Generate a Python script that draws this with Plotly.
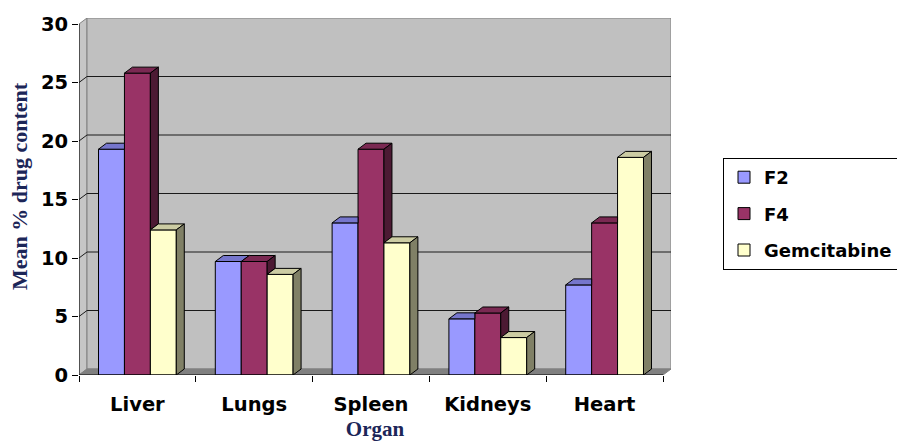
import plotly.graph_objects as go

# ---- data -------------------------------------------------------------
organs = ["Liver", "Lungs", "Spleen", "Kidneys", "Heart"]
series_names = ["F2", "F4", "Gemcitabine"]
f2 = [19.3, 9.7, 13.0, 4.8, 7.7]
f4 = [25.8, 9.7, 19.3, 5.3, 13.0]
gemcitabine = [12.4, 8.6, 11.3, 3.2, 18.6]
y_ticks = [0, 5, 10, 15, 20, 25, 30]

# ---- styling ----------------------------------------------------------
front_colors = ["#9999FF", "#993366", "#FFFFCC"]
top_colors = ["#7676CC", "#7A2952", "#CCCCA3"]
side_colors = ["#4D4D80", "#4C1A33", "#808066"]
wall_color = "#C0C0C0"
side_wall_color = "#C6C6C6"
floor_color = "#808080"
edge_gray = "#808080"
title_color = "#1C2658"

W, H = 897, 441
plot_left, plot_right = 79, 671
plot_top, plot_bottom = 18, 375
depth_px = (8, 6)              # 3-D depth offset (right, up) in pixels

n = len(organs)
ymax = y_ticks[-1]
front_w_px = plot_right - plot_left - depth_px[0]
front_h_px = plot_bottom - plot_top - depth_px[1]
dx = depth_px[0] * n / front_w_px      # depth offset in x data units
dy = depth_px[1] * ymax / front_h_px   # depth offset in y data units
bar_w = 0.222

series = [f2, f4, gemcitabine]

fig = go.Figure()

# front faces of the columns
for k, (name, vals) in enumerate(zip(series_names, series)):
    xs = [i + 0.5 + (k - 1) * bar_w for i in range(n)]
    fig.add_trace(go.Bar(
        x=xs, y=vals, width=bar_w, name=name, legendgroup=name,
        marker=dict(color=front_colors[k], line=dict(color="black", width=1)),
        hovertemplate=name + ": %{y}<extra></extra>",
    ))

# top and side faces, trimmed where the neighbouring column hides them
for k, vals in enumerate(series):
    tops_x, tops_y, sides_x, sides_y = [], [], [], []
    for i in range(n):
        h = vals[i]
        xc = i + 0.5 + (k - 1) * bar_w
        xl, xr = xc - bar_w / 2, xc + bar_w / 2
        hn = series[k + 1][i] if k + 1 < len(series) else 0.0
        hc = min(max(hn, h), h + dy)
        xcut = xr + dx * (h + dy - hc) / dy
        tops_x += [xl, xr, xr, xcut, xl + dx, xl, None]
        tops_y += [h, h, hc, h + dy, h + dy, h, None]
        if hn < h:
            sides_x += [xr, xr + dx, xr + dx, xr, xr, None]
            sides_y += [hn, hn + dy, h + dy, h, hn, None]
    fig.add_trace(go.Scatter(
        x=tops_x, y=tops_y, mode="lines", fill="toself",
        fillcolor=top_colors[k], line=dict(color="black", width=1),
        showlegend=False, hoverinfo="skip"))
    if sides_x:
        fig.add_trace(go.Scatter(
            x=sides_x, y=sides_y, mode="lines", fill="toself",
            fillcolor=side_colors[k], line=dict(color="black", width=1),
            showlegend=False, hoverinfo="skip"))

# walls, floor and gridlines of the 3-D box
shapes = [
    dict(type="path", layer="below", xref="x", yref="y",
         path=f"M0,0 L{dx},{dy} L{dx},{ymax + dy} L0,{ymax} Z",
         fillcolor=side_wall_color, line=dict(color=edge_gray, width=1)),
    dict(type="rect", layer="below", xref="x", yref="y",
         x0=dx, y0=dy, x1=n + dx, y1=ymax + dy,
         fillcolor=wall_color, line=dict(color=edge_gray, width=1)),
    dict(type="path", layer="below", xref="x", yref="y",
         path=f"M0,0 L{n},0 L{n + dx},{dy} L{dx},{dy} Z",
         fillcolor=floor_color, line=dict(color=edge_gray, width=1)),
]
for v in y_ticks[1:-1]:
    shapes.append(dict(type="path", layer="below", xref="x", yref="y",
                       path=f"M0,{v} L{dx},{v + dy} L{n + dx},{v + dy}",
                       line=dict(color="#1a1a1a", width=1)))
# front axis lines
shapes.append(dict(type="line", layer="above", xref="x", yref="y",
                   x0=0, y0=0, x1=0, y1=ymax, line=dict(color="black", width=1)))
shapes.append(dict(type="line", layer="above", xref="x", yref="y",
                   x0=0, y0=0, x1=n, y1=0, line=dict(color="black", width=1)))

tick_font = dict(family="DejaVu Sans", size=19.5, color="black", weight="bold")
title_font = dict(family="Liberation Serif", size=21, color=title_color, weight="bold")

plot_w = plot_right - plot_left
plot_h = plot_bottom - plot_top

fig.update_layout(
    width=W, height=H,
    margin=dict(l=plot_left, r=W - plot_right, t=plot_top, b=H - plot_bottom,
                autoexpand=False),
    paper_bgcolor="white", plot_bgcolor="white",
    barmode="overlay",
    shapes=shapes,
    showlegend=True,
    legend=dict(
        x=(723 - plot_left) / plot_w,
        y=(plot_bottom - 158) / plot_h,
        xanchor="left", yanchor="top",
        bgcolor="white", bordercolor="black", borderwidth=1,
        font=dict(family="DejaVu Sans", size=18, color="black", weight="bold"),
        tracegroupgap=10, traceorder="grouped",
    ),
    annotations=[dict(
        text="Mean % drug content", textangle=-90, showarrow=False,
        xref="paper", yref="paper",
        x=(19 - plot_left) / plot_w, y=(plot_bottom - 186) / plot_h,
        xanchor="center", yanchor="middle", font=dict(title_font, size=22),
    )],
    xaxis=dict(
        range=[0, n + dx], showgrid=False, zeroline=False, showline=False,
        tickmode="array", tickvals=[i + 0.5 for i in range(n)], ticktext=organs,
        ticks="", tickfont=tick_font, ticklabelstandoff=15,
        minor=dict(tickmode="array", tickvals=list(range(n + 1)),
                   ticks="outside", ticklen=6, tickcolor="black", showgrid=False),
        title=dict(text="Organ", font=title_font, standoff=8),
        fixedrange=True,
    ),
    yaxis=dict(
        range=[0, ymax + dy], showgrid=False, zeroline=False, showline=False,
        tickmode="array", tickvals=y_ticks, ticks="outside", ticklen=6,
        tickcolor="black", tickfont=tick_font,
        fixedrange=True,
    ),
)

fig.write_html("out.html")
